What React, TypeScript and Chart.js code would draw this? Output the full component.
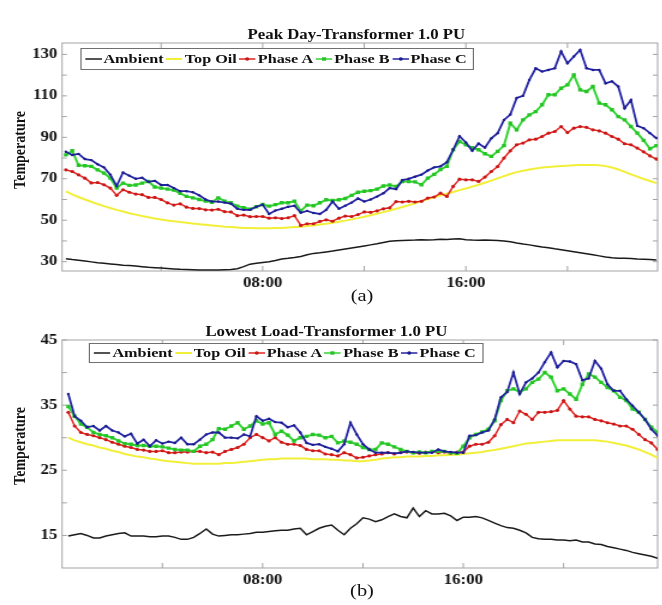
import React, { useEffect, useRef } from 'react';
import { Chart, registerables } from 'chart.js';

Chart.register(...registerables);

// Figure text is set slightly wide, so each panel is drawn narrow and stretched horizontally.
const STRETCH = 1.2;
const CANVAS_W = 552;
const AREA_LEFT = 51.7;
const SERIF = '"Liberation Serif", "Times New Roman", serif';

// Sample times in hours (15-minute readings)
const quarterHours = Array.from({ length: 95 }, (_, i) => (i + 1) * 0.25);
const peakTimes = quarterHours.slice(0, 94);
const lowTimes = quarterHours;

const xTickHours = [4, 8, 12, 16, 20];
const hourLabels: Record<number, string> = { 8: '08:00', 16: '16:00' };

// ---- Peak day, transformer at 1.0 PU ----
const peakAmbient = [
  31.4, 31.0, 30.7, 30.3, 29.9, 29.5, 29.2, 28.9,
  28.6, 28.3, 28.1, 27.9, 27.6, 27.3, 27.1, 26.9,
  26.7, 26.5, 26.3, 26.2, 26.1, 26.0, 26.0, 26.0,
  26.0, 26.1, 26.2, 26.6, 27.6, 28.8, 29.2, 29.6,
  30.0, 30.6, 31.3, 31.6, 32.0, 32.5, 33.3, 34.0,
  34.3, 34.7, 35.1, 35.6, 36.1, 36.6, 37.1, 37.6,
  38.1, 38.6, 39.2, 39.8, 40.1, 40.2, 40.3, 40.4,
  40.6, 40.5, 40.6, 40.8, 40.7, 40.9, 41.0, 40.6,
  40.4, 40.3, 40.4, 40.3, 40.2, 40.0, 39.6, 39.0,
  38.5, 38.1, 37.6, 37.1, 36.7, 36.2, 35.8, 35.3,
  34.8, 34.3, 33.8, 33.3, 32.8, 32.3, 31.9, 31.7,
  31.6, 31.5, 31.3, 31.2, 31.0, 30.8,
];
const peakTopOil = [
  63.9, 62.5, 61.2, 60.0, 58.9, 57.8, 56.8, 55.9,
  55.0, 54.2, 53.4, 52.7, 52.0, 51.4, 50.8, 50.3,
  49.9, 49.5, 49.1, 48.8, 48.4, 48.1, 47.8, 47.5,
  47.2, 46.9, 46.7, 46.5, 46.3, 46.2, 46.1, 46.1,
  46.1, 46.2, 46.3, 46.5, 46.7, 46.9, 47.2, 47.5,
  47.9, 48.3, 48.8, 49.3, 49.8, 50.4, 51.0, 51.7,
  52.4, 53.1, 53.9, 54.7, 55.5, 56.4, 57.3, 58.2,
  59.2, 60.2, 61.1, 62.0, 62.8, 63.6, 64.5, 65.3,
  66.2, 67.1, 68.1, 69.1, 70.2, 71.3, 72.3, 73.2,
  73.9, 74.5, 75.0, 75.4, 75.7, 75.9, 76.1, 76.3,
  76.5, 76.6, 76.7, 76.7, 76.5, 76.1, 75.4, 74.5,
  73.3, 72.1, 71.0, 69.9, 68.9, 67.9,
];
const peakPhaseA = [
  74.3, 73.5, 71.9, 70.3, 68.0, 68.2, 67.1, 65.5,
  62.0, 64.7, 63.5, 62.6, 62.3, 61.0, 61.0, 60.0,
  58.4, 57.3, 57.9, 56.3, 55.7, 55.6, 55.0, 54.9,
  55.3, 54.1, 54.0, 52.2, 52.5, 51.7, 51.8, 51.8,
  51.0, 51.2, 50.8, 51.2, 52.2, 47.5, 48.3, 48.3,
  49.4, 50.2, 49.5, 51.0, 52.0, 51.8, 52.7, 54.0,
  53.8, 54.5, 55.5, 56.0, 59.0, 58.8, 59.1, 58.8,
  59.1, 60.7, 61.2, 63.1, 61.5, 66.3, 69.8, 69.5,
  69.5, 68.7, 70.8, 73.5, 75.9, 80.0, 83.5, 86.4,
  87.2, 88.8, 89.1, 90.4, 92.0, 92.8, 95.2, 92.3,
  94.4, 95.2, 94.8, 93.6, 93.1, 92.0, 90.4, 89.1,
  86.9, 86.4, 84.8, 83.0, 81.0, 79.5,
];
const peakPhaseB = [
  81.5, 83.5, 76.5, 76.3, 76.0, 74.3, 72.7, 70.3,
  65.5, 67.9, 66.8, 67.0, 67.9, 68.7, 66.0, 65.5,
  65.0, 64.5, 63.0, 61.5, 60.8, 60.0, 59.2, 58.7,
  60.8, 59.2, 58.4, 56.8, 56.1, 55.3, 56.5, 57.6,
  56.8, 57.5, 58.4, 58.4, 59.2, 54.5, 57.3, 57.0,
  58.4, 59.9, 59.5, 59.9, 60.5, 62.0, 63.5, 64.0,
  64.3, 65.0, 66.5, 67.0, 66.3, 68.7, 68.7, 68.5,
  67.1, 70.3, 72.1, 74.5, 76.0, 84.0, 88.0, 86.4,
  85.0, 84.0, 82.1, 80.8, 83.2, 86.0, 96.8, 93.6,
  98.4, 100.8, 102.4, 105.7, 110.5, 110.5, 113.7, 115.3,
  120.1, 112.9, 112.1, 114.5, 106.5, 105.7, 103.3, 100.0,
  98.4, 95.2, 92.0, 88.5, 84.5, 86.0,
];
const peakPhaseC = [
  83.0, 81.5, 82.0, 79.5, 79.0, 77.0, 75.5, 72.0,
  66.5, 73.0, 71.5, 70.0, 70.5, 68.5, 69.0, 67.0,
  67.0, 65.5, 64.0, 64.0, 63.5, 62.0, 60.0, 59.0,
  59.0, 58.5, 58.0, 55.5, 55.0, 55.0, 56.5, 57.5,
  53.0, 54.7, 55.5, 56.5, 57.0, 53.6, 54.5, 53.5,
  53.0, 55.0, 59.0, 55.5, 57.0, 58.5, 60.5, 59.0,
  60.0, 61.4, 63.0, 65.5, 65.0, 69.4, 70.0, 71.0,
  72.0, 74.0, 75.5, 76.0, 78.0, 84.0, 90.5, 87.5,
  83.5, 87.0, 85.0, 89.5, 92.0, 98.4, 101.0, 109.0,
  110.0, 117.7, 123.3, 121.7, 122.5, 123.3, 131.4, 125.7,
  129.0, 132.2, 123.3, 122.5, 122.5, 116.0, 117.0, 114.5,
  104.0, 108.0, 95.5, 94.4, 92.0, 89.6,
];

// ---- Lowest load day, transformer at 1.0 PU ----
const lowAmbient = [
  14.9, 15.1, 15.3, 15.0, 14.6, 14.6, 14.9, 15.1,
  15.3, 15.4, 14.9, 14.9, 14.9, 14.8, 14.8, 14.9,
  14.9, 14.7, 14.4, 14.4, 14.7, 15.3, 16.0, 15.2,
  14.9, 15.0, 15.1, 15.1, 15.2, 15.3, 15.5, 15.5,
  15.6, 15.7, 15.8, 15.8, 16.0, 16.1, 15.1, 15.6,
  16.1, 16.4, 16.6, 15.8, 15.1, 16.1, 16.8, 17.7,
  17.5, 17.1, 17.4, 17.9, 18.3, 17.9, 17.7, 19.2,
  17.9, 18.8, 18.3, 18.3, 18.4, 18.0, 17.3, 17.8,
  17.8, 17.9, 17.7, 17.3, 16.9, 16.5, 16.2, 16.1,
  15.8, 15.4, 14.7, 14.5, 14.4, 14.4, 14.3, 14.3,
  14.2, 14.3, 14.0, 14.0, 13.7, 13.6, 13.3, 13.1,
  12.9, 12.7, 12.4, 12.2, 12.0, 11.8, 11.5,
];
const lowTopOil = [
  30.0, 29.6, 29.3, 29.0, 28.8, 28.5, 28.3, 28.0,
  27.8, 27.5, 27.3, 27.1, 27.0, 26.8, 26.7, 26.5,
  26.4, 26.3, 26.2, 26.1, 26.0, 26.0, 26.0, 26.0,
  26.0, 26.1, 26.1, 26.2, 26.3, 26.4, 26.5, 26.6,
  26.7, 26.7, 26.8, 26.8, 26.8, 26.8, 26.8, 26.7,
  26.7, 26.7, 26.6, 26.6, 26.5, 26.5, 26.4, 26.4,
  26.5, 26.6, 26.8, 26.9, 27.0, 27.0, 27.1, 27.1,
  27.1, 27.2, 27.2, 27.3, 27.3, 27.4, 27.4, 27.5,
  27.6, 27.7, 27.8, 28.0, 28.1, 28.3, 28.5, 28.7,
  28.9, 29.1, 29.2, 29.3, 29.4, 29.5, 29.6, 29.6,
  29.6, 29.6, 29.6, 29.6, 29.6, 29.5, 29.4, 29.2,
  29.0, 28.8, 28.5, 28.2, 27.8, 27.4, 26.9,
];
const lowPhaseA = [
  33.9, 31.8, 30.8, 30.5, 30.3, 30.0, 29.7, 29.3,
  29.0, 28.7, 28.5, 28.2, 28.1, 27.9, 27.9, 28.0,
  27.7, 27.7, 27.8, 27.8, 27.9, 27.9, 27.7, 27.8,
  27.4, 27.9, 28.2, 28.5, 29.0, 30.0, 30.5, 30.0,
  29.5, 30.0, 29.3, 29.0, 29.0, 28.8, 28.2, 28.0,
  28.0, 27.5, 27.4, 27.2, 27.7, 27.4, 26.9, 27.0,
  27.2, 27.4, 27.5, 27.7, 27.5, 27.7, 27.8, 27.7,
  27.6, 27.8, 27.9, 27.7, 27.8, 27.6, 27.8, 27.8,
  28.7, 29.0, 29.0, 29.3, 30.3, 32.0, 32.8, 32.3,
  34.1, 33.6, 32.8, 33.9, 33.9, 34.0, 34.2, 35.7,
  34.4, 33.3, 33.2, 33.2, 32.8, 32.6, 32.3, 32.1,
  31.8, 31.8, 31.3, 30.5, 29.7, 29.2, 28.2,
];
const lowPhaseB = [
  34.8, 33.3, 32.1, 31.6, 30.8, 30.5, 30.3, 30.0,
  29.5, 29.1, 29.0, 28.8, 28.8, 28.7, 28.7, 28.6,
  28.4, 28.2, 28.1, 28.1, 27.9, 28.7, 29.0, 29.7,
  31.4, 31.3, 31.8, 32.3, 31.3, 31.8, 32.6, 32.1,
  32.3, 30.5, 31.0, 30.4, 29.5, 30.0, 30.2, 30.5,
  30.4, 30.0, 30.2, 29.2, 29.5, 29.3, 29.0, 28.5,
  28.2, 28.2, 29.2, 29.0, 28.6, 28.2, 27.9, 27.7,
  27.8, 27.7, 27.9, 27.9, 27.9, 27.7, 27.6, 28.7,
  30.0, 30.5, 30.9, 31.3, 32.6, 35.7, 37.2, 37.5,
  37.0, 37.5, 38.5, 39.0, 40.0, 39.3, 37.2, 37.5,
  36.7, 35.9, 38.2, 39.8, 39.3, 38.5, 37.7, 37.2,
  36.2, 35.7, 34.4, 33.9, 32.8, 31.6, 30.8,
];
const lowPhaseC = [
  36.7, 33.3, 32.6, 31.6, 31.8, 31.1, 31.8, 31.1,
  30.8, 30.2, 30.6, 29.1, 29.7, 28.7, 29.6, 29.1,
  29.4, 29.2, 30.0, 29.0, 29.0, 29.7, 30.5, 30.8,
  30.8, 30.0, 30.0, 29.9, 30.5, 30.2, 33.3, 32.6,
  32.9, 32.4, 32.3, 31.6, 31.9, 30.8, 29.2, 28.9,
  29.0, 28.6, 28.3, 27.9, 29.0, 32.3, 30.5, 29.0,
  28.2, 27.7, 27.7, 27.7, 27.6, 27.7, 27.9, 27.8,
  27.7, 27.7, 27.7, 28.2, 27.9, 27.8, 27.7, 27.7,
  30.3, 30.4, 30.8, 31.1, 32.8, 36.2, 37.0, 40.0,
  36.7, 38.5, 39.1, 40.0, 41.6, 43.1, 40.8, 41.8,
  41.7, 41.3, 38.8, 39.1, 41.8, 40.6, 38.2, 37.2,
  37.2, 35.9, 34.9, 33.9, 32.8, 31.3, 30.3,
];

const peakYTicks = [30, 40, 50, 60, 70, 80, 90, 100, 110, 120, 130];
const peakYLabels = [30, 50, 70, 90, 110, 130];
const lowYTicks = [15, 20, 25, 30, 35, 40, 45];
const lowYLabels = [15, 25, 35, 45];

const COLORS = {
  ambient: '#1b1b1b',
  topOil: '#f1ef3a',
  phaseA: '#e2231f',
  phaseAMark: '#c81818',
  phaseB: '#34d434',
  phaseBMark: '#26c426',
  phaseC: '#2424a4',
  phaseCMark: '#1c1c8c',
};

interface PanelSpec {
  times: number[];
  ambient: number[];
  topOil: number[];
  phaseA: number[];
  phaseB: number[];
  phaseC: number[];
  xMin: number;
  xMax: number;
  yMin: number;
  yMax: number;
  yTicks: number[];
  yLabels: number[];
  height: number;
  areaTop: number;
  areaBottom: number;
  areaRight: number;
}

const peakPanel: PanelSpec = {
  times: peakTimes,
  ambient: peakAmbient,
  topOil: peakTopOil,
  phaseA: peakPhaseA,
  phaseB: peakPhaseB,
  phaseC: peakPhaseC,
  xMin: 0.1,
  xMax: 23.55,
  yMin: 25.5,
  yMax: 135.5,
  yTicks: peakYTicks,
  yLabels: peakYLabels,
  height: 300,
  areaTop: 43,
  areaBottom: 271,
  areaRight: 550.8,
};

const lowPanel: PanelSpec = {
  times: lowTimes,
  ambient: lowAmbient,
  topOil: lowTopOil,
  phaseA: lowPhaseA,
  phaseB: lowPhaseB,
  phaseC: lowPhaseC,
  xMin: 0,
  xMax: 23.75,
  yMin: 10,
  yMax: 45,
  yTicks: lowYTicks,
  yLabels: lowYLabels,
  height: 305,
  areaTop: 40,
  areaBottom: 268,
  areaRight: 549.2,
};

const toPoints = (times: number[], values: number[]) =>
  values.map((v, i) => ({ x: times[i], y: v }));

// Grey box around the plot area with inward tick marks on all four sides
const boxTicks = {
  id: 'boxTicks',
  beforeDatasetsDraw(chart: any) {
    const { ctx, chartArea, scales } = chart;
    const { left, right, top, bottom } = chartArea;
    ctx.save();
    ctx.strokeStyle = '#a3a3a3';
    ctx.lineWidth = 1;
    ctx.strokeRect(left, top, right - left, bottom - top);
    ctx.beginPath();
    scales.x.ticks.forEach((t: any) => {
      const px = scales.x.getPixelForValue(t.value);
      ctx.moveTo(px, bottom);
      ctx.lineTo(px, bottom - 5);
      ctx.moveTo(px, top);
      ctx.lineTo(px, top + 5);
    });
    scales.y.ticks.forEach((t: any) => {
      const py = scales.y.getPixelForValue(t.value);
      ctx.moveTo(left, py);
      ctx.lineTo(left + 4, py);
      ctx.moveTo(right, py);
      ctx.lineTo(right - 4, py);
    });
    ctx.stroke();
    ctx.restore();
  },
};

const tickFont = { family: SERIF, size: 14, weight: 'bold' as const };

function buildConfig(spec: PanelSpec): any {
  const { times } = spec;
  return {
    type: 'line',
    data: {
      datasets: [
        {
          label: 'Ambient',
          data: toPoints(times, spec.ambient),
          borderColor: COLORS.ambient,
          borderWidth: 1.5,
          pointRadius: 0,
          order: 5,
        },
        {
          label: 'Top Oil',
          data: toPoints(times, spec.topOil),
          borderColor: COLORS.topOil,
          borderWidth: 2,
          pointRadius: 0,
          order: 4,
        },
        {
          label: 'Phase A',
          data: toPoints(times, spec.phaseA),
          borderColor: COLORS.phaseA,
          borderWidth: 1.5,
          pointStyle: 'circle',
          pointRadius: 1.6,
          pointBorderWidth: 0,
          pointBackgroundColor: COLORS.phaseAMark,
          order: 3,
        },
        {
          label: 'Phase B',
          data: toPoints(times, spec.phaseB),
          borderColor: COLORS.phaseB,
          borderWidth: 2,
          pointStyle: 'rect',
          pointRadius: 2.4,
          pointBorderWidth: 0,
          pointBackgroundColor: COLORS.phaseBMark,
          order: 2,
        },
        {
          label: 'Phase C',
          data: toPoints(times, spec.phaseC),
          borderColor: COLORS.phaseC,
          borderWidth: 1.8,
          pointStyle: 'circle',
          pointRadius: 1.2,
          pointBorderWidth: 0,
          pointBackgroundColor: COLORS.phaseCMark,
          order: 1,
        },
      ],
    },
    options: {
      responsive: false,
      animation: false,
      devicePixelRatio: 1,
      events: [],
      layout: {
        padding: { top: spec.areaTop, right: CANVAS_W - spec.areaRight, bottom: 0, left: 0 },
      },
      elements: { line: { tension: 0 } },
      plugins: {
        legend: { display: false },
        title: { display: false },
        tooltip: { enabled: false },
      },
      scales: {
        x: {
          type: 'linear',
          min: spec.xMin,
          max: spec.xMax,
          grid: { display: false, drawTicks: false },
          border: { display: false },
          afterBuildTicks: (s: any) => {
            s.ticks = xTickHours.map((v) => ({ value: v }));
          },
          afterFit: (s: any) => {
            s.height = spec.height - spec.areaBottom;
          },
          ticks: {
            padding: 4,
            color: '#111',
            font: tickFont,
            maxRotation: 0,
            autoSkip: false,
            callback: (v: number) => hourLabels[v] ?? '',
          },
        },
        y: {
          type: 'linear',
          min: spec.yMin,
          max: spec.yMax,
          grid: { display: false, drawTicks: false },
          border: { display: false },
          afterBuildTicks: (s: any) => {
            s.ticks = spec.yTicks.map((v) => ({ value: v }));
          },
          afterFit: (s: any) => {
            s.width = AREA_LEFT;
          },
          ticks: {
            padding: 4,
            color: '#111',
            font: tickFont,
            autoSkip: false,
            callback: (v: number) => (spec.yLabels.includes(v) ? String(v) : ''),
          },
          title: { display: false },
        },
      },
    },
    plugins: [boxTicks],
  };
}

function Panel({ spec, top }: { spec: PanelSpec; top: number }) {
  const ref = useRef<HTMLCanvasElement>(null);
  useEffect(() => {
    if (!ref.current) return;
    const chart = new Chart(ref.current, buildConfig(spec));
    return () => chart.destroy();
  }, [spec]);
  return (
    <canvas
      ref={ref}
      width={CANVAS_W}
      height={spec.height}
      style={{ position: 'absolute', left: 0, top, width: CANVAS_W, height: spec.height, display: 'block' }}
    />
  );
}

const legendItems = [
  { label: 'Ambient', color: COLORS.ambient, mark: '', markColor: '' },
  { label: 'Top Oil', color: COLORS.topOil, mark: '', markColor: '' },
  { label: 'Phase A', color: COLORS.phaseA, mark: 'dot', markColor: COLORS.phaseAMark },
  { label: 'Phase B', color: COLORS.phaseB, mark: 'square', markColor: COLORS.phaseBMark },
  { label: 'Phase C', color: COLORS.phaseC, mark: 'dot', markColor: COLORS.phaseCMark },
];

function Legend({ left, top, height }: { left: number; top: number; height: number }) {
  return (
    <div
      style={{
        position: 'absolute',
        left,
        top,
        height,
        boxSizing: 'border-box',
        border: '1px solid #707070',
        background: '#fff',
        display: 'flex',
        alignItems: 'center',
        padding: '0 3px',
        whiteSpace: 'nowrap',
        font: `bold 13.5px ${SERIF}`,
        color: '#111',
      }}
    >
      {legendItems.map((it) => (
        <span key={it.label} style={{ display: 'inline-flex', alignItems: 'center', marginRight: 2 }}>
          <svg width={14} height={10} style={{ marginRight: 1.5 }}>
            <line x1={0} y1={5} x2={14} y2={5} stroke={it.color} strokeWidth={it.label === 'Top Oil' ? 2 : 1.6} />
            {it.mark === 'dot' && <circle cx={7} cy={5} r={1.7} fill={it.markColor} />}
            {it.mark === 'square' && <rect x={5.3} y={3.3} width={3.4} height={3.4} fill={it.markColor} />}
          </svg>
          <span>{it.label}</span>
        </span>
      ))}
    </div>
  );
}

const titleStyle = (centerX: number, top: number): React.CSSProperties => ({
  position: 'absolute',
  left: centerX - 200,
  width: 400,
  top,
  textAlign: 'center',
  font: `bold 14px ${SERIF}`,
  lineHeight: '16px',
  color: '#111',
  whiteSpace: 'nowrap',
});

const captionStyle = (centerX: number, top: number): React.CSSProperties => ({
  position: 'absolute',
  left: centerX - 30,
  width: 60,
  top,
  textAlign: 'center',
  font: `17px ${SERIF}`,
  lineHeight: '20px',
  color: '#111',
});

// Vertical axis title, rotated to read bottom-to-top, centred on (cx, cy)
const axisTitleStyle = (cx: number, cy: number): React.CSSProperties => ({
  position: 'absolute',
  left: cx,
  top: cy,
  transform: 'translate(-50%, -50%) rotate(-90deg)',
  font: `bold 14px ${SERIF}`,
  lineHeight: '16px',
  color: '#111',
  whiteSpace: 'nowrap',
});

export default function App() {
  return (
    <div style={{ position: 'absolute', left: 0, top: 0, width: 662, height: 605, overflow: 'hidden', background: '#fff' }}>
      <div
        style={{
          position: 'absolute',
          left: 0,
          top: 0,
          width: CANVAS_W,
          height: 605,
          transform: `scaleX(${STRETCH})`,
          transformOrigin: '0 0',
        }}
      >
        <Panel spec={peakPanel} top={0} />
        <Panel spec={lowPanel} top={300} />
        <div style={titleStyle(297, 27)}>Peak Day-Transformer 1.0 PU</div>
        <div style={titleStyle(272, 324)}>Lowest Load-Transformer 1.0 PU</div>
        <div style={axisTitleStyle(16.5, 150)}>Temperature</div>
        <div style={axisTitleStyle(16.5, 446)}>Temperature</div>
        <Legend left={66.7} top={48} height={22} />
        <Legend left={74.2} top={343} height={20} />
        <div style={captionStyle(301.7, 286)}>(a)</div>
        <div style={captionStyle(301.7, 581)}>(b)</div>
      </div>
    </div>
  );
}
